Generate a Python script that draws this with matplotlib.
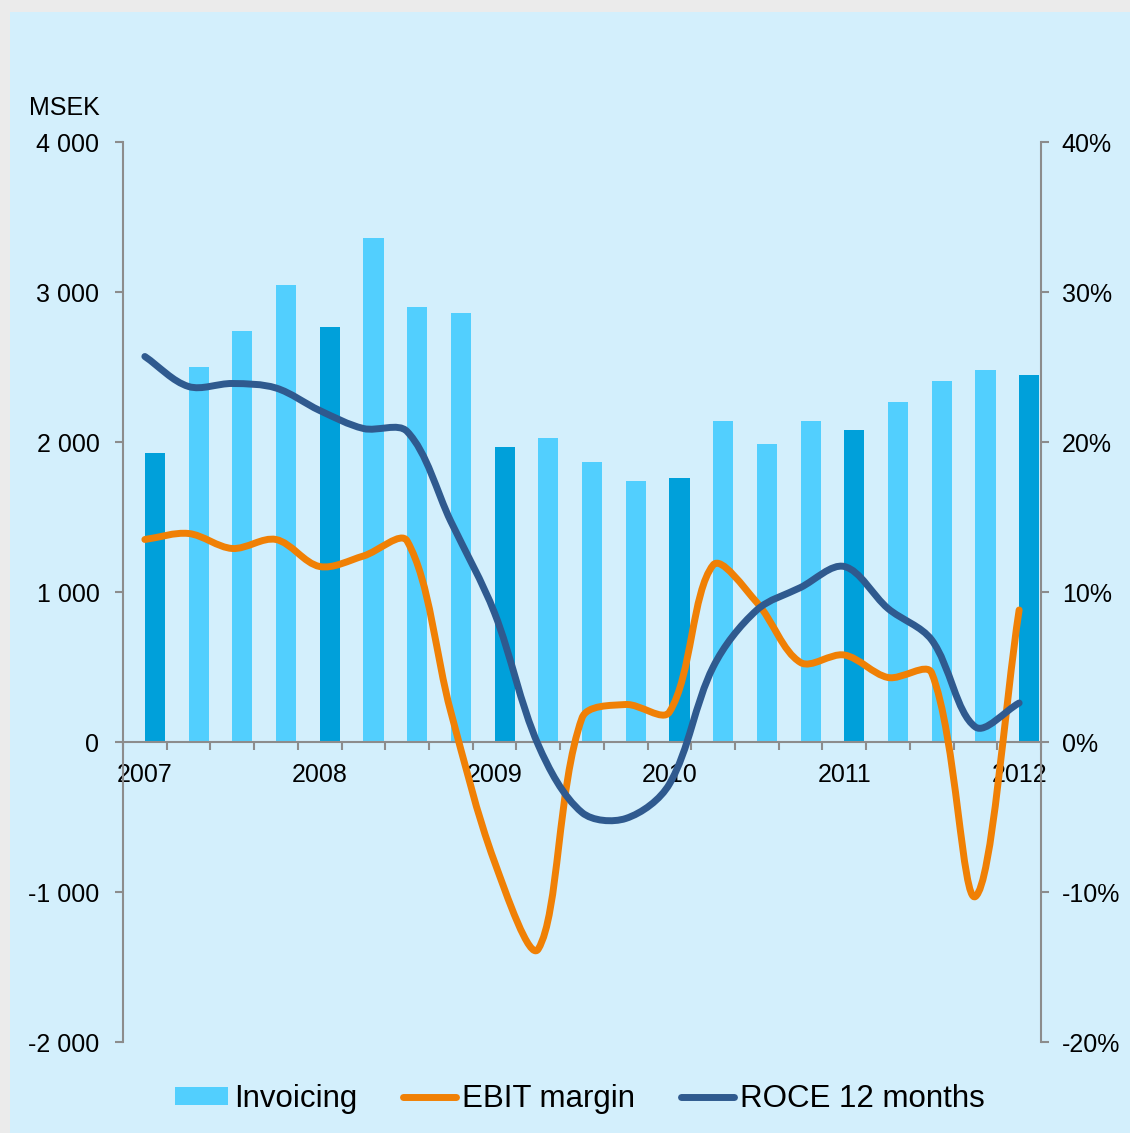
import numpy as np
import matplotlib
matplotlib.use('Agg')
import matplotlib.pyplot as plt
from matplotlib.path import Path
from matplotlib.patches import PathPatch, Rectangle, Patch
from matplotlib.lines import Line2D

plt.rcParams['font.family'] = ['Liberation Sans', 'DejaVu Sans']

# Quarterly invoicing (MSEK), first bar of each year is the full-year marker
invoicing = [1930, 2500, 2740, 3050, 2770, 3360, 2900, 2860, 1970, 2030, 1870,
             1740, 1760, 2140, 1990, 2140, 2080, 2270, 2410, 2480, 2450]
# EBIT margin (%)
ebit_margin = [13.5, 13.9, 12.9, 13.5, 11.7, 12.4, 13.4, 2.0, -8.0, -13.8, 1.6,
               2.5, 2.0, 11.8, 9.3, 5.3, 5.8, 4.3, 4.6, -10.3, 8.8]
# ROCE 12 months (%)
roce = [25.7, 23.7, 23.9, 23.6, 22.1, 20.9, 20.7, 14.7, 8.6, -0.2, -4.7,
        -5.1, -2.8, 5.0, 8.8, 10.3, 11.7, 8.9, 6.8, 1.0, 2.6]
years = ['2007', '2008', '2009', '2010', '2011', '2012']
left_ticks = [-2000, -1000, 0, 1000, 2000, 3000, 4000]
left_labels = ['-2 000', '-1 000', '0', '1 000', '2 000', '3 000', '4 000']
right_ticks = [-20, -10, 0, 10, 20, 30, 40]
right_labels = ['-20%', '-10%', '0%', '10%', '20%', '30%', '40%']

BG = '#D3EFFC'
LIGHT = '#52CFFE'
DARK = '#00A0DA'
ORANGE = '#F08005'
NAVY = '#2F5A8F'
GRAY = '#8C8C8C'

W, H = 1130, 1133
fig = plt.figure(figsize=(W / 100, H / 100), dpi=100, facecolor='#EBEBEB')
fig.patches.append(Rectangle((10 / W, 0), 1, 1 - 12 / H, transform=fig.transFigure,
                             facecolor=BG, edgecolor='none', zorder=-10))

ax = fig.add_axes([123 / W, 1 - 1042 / H, (1041 - 123) / W, 900 / H])
ax.set_facecolor('none')
n = len(invoicing)
x = np.arange(n)
colors = [DARK if i % 4 == 0 else LIGHT for i in range(n)]
ax.bar(x + 0.23, invoicing, width=0.46, color=colors, zorder=2)

ax.set_xlim(-0.5, n - 0.5)
ax.set_ylim(-2000, 4000)
ax.set_yticks(left_ticks)
ax.set_yticklabels(left_labels)
ax.set_xticks(np.arange(0, n, 4))
ax.set_xticklabels(years)
ax.set_xticks(np.arange(-0.5, n, 1), minor=True)
ax.tick_params(axis='x', which='major', length=0, pad=15, labelsize=18)
ax.tick_params(axis='x', which='minor', length=6, width=1.5, color=GRAY, direction='out')
ax.tick_params(axis='y', length=6, width=1.5, color=GRAY, pad=11, labelsize=18)
for s in ['top', 'right']:
    ax.spines[s].set_visible(False)
ax.spines['bottom'].set_position(('data', 0))
for s in ['left', 'bottom']:
    ax.spines[s].set_color(GRAY)
    ax.spines[s].set_linewidth(1.5)

ax2 = ax.twinx()
ax2.set_ylim(-20, 40)
ax2.set_yticks(right_ticks)
ax2.set_yticklabels(right_labels)
ax2.tick_params(axis='y', length=6, width=1.5, color=GRAY, pad=9, labelsize=18)
for s in ['top', 'left', 'bottom']:
    ax2.spines[s].set_visible(False)
ax2.spines['right'].set_color(GRAY)
ax2.spines['right'].set_linewidth(1.5)


def smooth_path(xs, ys, sx=43.7, sy=15.0):
    # Bezier through the points; tangents scaled by on-screen chord lengths
    pts = np.column_stack([xs, ys]).astype(float)
    ext = np.vstack([pts[0], pts, pts[-1]])
    scale = np.array([sx, sy])

    def dist(a, b):
        return np.hypot(*((b - a) * scale))

    verts = [pts[0]]
    codes = [Path.MOVETO]
    for i in range(len(pts) - 1):
        p0, p1, p2, p3 = ext[i], ext[i + 1], ext[i + 2], ext[i + 3]
        d01, d12, d23 = dist(p0, p1), dist(p1, p2), dist(p2, p3)
        f1 = d12 / (d01 + d12) if d01 + d12 > 0 else 0.5
        f2 = d12 / (d12 + d23) if d12 + d23 > 0 else 0.5
        c1 = p1 + (p2 - p0) * f1 / 3
        c2 = p2 - (p3 - p1) * f2 / 3
        verts += [c1, c2, p2]
        codes += [Path.CURVE4] * 3
    return Path(verts, codes)


for series, col in [(ebit_margin, ORANGE), (roce, NAVY)]:
    ax2.add_patch(PathPatch(smooth_path(x, series), facecolor='none', edgecolor=col,
                            linewidth=5, capstyle='round', joinstyle='round', zorder=3))

fig.text(29 / W, 1 - 108 / H, 'MSEK', fontsize=18, va='center', ha='left')

handles = [Patch(facecolor=LIGHT, edgecolor='none'),
           Line2D([], [], color=ORANGE, linewidth=5, solid_capstyle='round'),
           Line2D([], [], color=NAVY, linewidth=5, solid_capstyle='round')]
fig.legend(handles, ['Invoicing', 'EBIT margin', 'ROCE 12 months'], loc='center',
           bbox_to_anchor=(580 / W, 1 - 1099 / H), ncol=3, frameon=False, fontsize=22.5,
           handlelength=1.7, handleheight=0.5, handletextpad=0.2, columnspacing=1.45)

fig.savefig('out.png', dpi=100, facecolor=fig.get_facecolor())
